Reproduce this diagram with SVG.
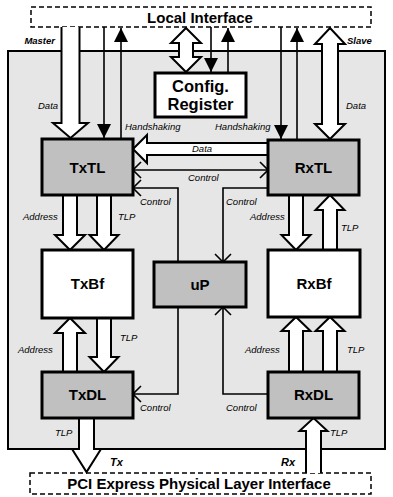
<svg xmlns="http://www.w3.org/2000/svg" width="393" height="497" viewBox="0 0 393 497">
<style>
.bg{fill:#e6e6e6;stroke:#000;stroke-width:2}
.iface{fill:#fff;stroke:#000;stroke-width:1.5;stroke-dasharray:5,3}
.gray{fill:#c0c0c0;stroke:#000;stroke-width:3}
.white{fill:#fff;stroke:#000;stroke-width:3}
.ha{fill:#fff;stroke:#000;stroke-width:2;stroke-linejoin:miter}
.ln{fill:none;stroke:#000;stroke-width:1.6}
.big{font-family:"Liberation Sans",Arial,sans-serif;font-weight:bold;font-size:15px;text-anchor:middle}
.cfg{font-family:"Liberation Sans",Arial,sans-serif;font-weight:bold;font-size:16.5px;text-anchor:middle}
.ttl{font-family:"Liberation Sans",Arial,sans-serif;font-weight:bold;font-size:15px;text-anchor:middle}
.lbl{font-family:"Liberation Sans",Arial,sans-serif;font-style:italic;font-size:9.5px}
.bl{font-family:"Liberation Sans",Arial,sans-serif;font-style:italic;font-weight:bold;font-size:9.5px}
.bx{font-family:"Liberation Sans",Arial,sans-serif;font-style:italic;font-weight:bold;font-size:11px}
</style>
<defs>
<marker id="fa" markerWidth="14" markerHeight="14" refX="14" refY="7" orient="auto" markerUnits="userSpaceOnUse">
<path d="M0,0 L14,7 L0,14 Z" fill="#000"/>
</marker>
<marker id="oa" markerWidth="10" markerHeight="18" refX="9" refY="9" orient="auto" markerUnits="userSpaceOnUse">
<path d="M1,1 L9,9 L1,17" fill="none" stroke="#000" stroke-width="1.6"/>
</marker>
<marker id="os" markerWidth="10" markerHeight="18" refX="1" refY="9" orient="auto" markerUnits="userSpaceOnUse">
<path d="M9,1 L1,9 L9,17" fill="none" stroke="#000" stroke-width="1.6"/>
</marker>
</defs>

<rect class="bg" x="8" y="51" width="377" height="398"/>

<g id="local-interface">
<rect class="iface" x="31" y="7" width="340" height="20"/>
<text class="ttl" x="200" y="22.5">Local Interface</text>
</g>
<g id="pci-interface">
<rect class="iface" x="30" y="473" width="341" height="21"/>
<text class="ttl" x="199" y="489">PCI Express Physical Layer Interface</text>
</g>

<g id="connectors">
<path class="ha" d="M61.5,27 V123 H53 L70.5,138 L88,123 H79.5 V27"/>
<line class="ln" x1="104" y1="27" x2="104" y2="138" marker-end="url(#fa)"/>
<line class="ln" x1="121" y1="139" x2="121" y2="28" marker-end="url(#fa)"/>
<path class="ha" d="M186,28 L201,43 H193 V57 H201 L186,72 L171,57 H179 V43 H171 Z"/>
<line class="ln" x1="211" y1="27" x2="211" y2="72" marker-end="url(#fa)"/>
<line class="ln" x1="228" y1="73" x2="228" y2="28" marker-end="url(#fa)"/>
<line class="ln" x1="281" y1="27" x2="281" y2="139" marker-end="url(#fa)"/>
<line class="ln" x1="297" y1="140" x2="297" y2="28" marker-end="url(#fa)"/>
<path class="ha" d="M330,28 L345,44 H338 V124 H345 L330,139 L315,124 H322 V44 H315 Z"/>
<path class="ha" d="M268,143 H147 V135 L133,149 L147,163 V155 H268"/>
<line class="ln" x1="133" y1="170" x2="268" y2="170" marker-start="url(#os)" marker-end="url(#oa)"/>
<polyline class="ln" points="178,262 178,188 133,188" marker-end="url(#oa)"/>
<polyline class="ln" points="178,307 178,394 133,394" marker-end="url(#oa)"/>
<polyline class="ln" points="268,188 223,188 223,262" marker-end="url(#oa)"/>
<polyline class="ln" points="268,394 223,394 223,307" marker-end="url(#oa)"/>
<path class="ha" d="M63,195 V235 H55 L70,250 L85,235 H77 V195"/>
<path class="ha" d="M97,195 V235 H89.5 L104,250 L118.5,235 H111 V195"/>
<path class="ha" d="M63,372 V333 H55 L70,318 L85,333 H77 V372"/>
<path class="ha" d="M97,318 V357 H89.5 L104,372 L118.5,357 H111 V318"/>
<path class="ha" d="M79,418 V449 H72 L86.5,472 L101,449 H94 V418"/>
<path class="ha" d="M289,195 V235 H281.5 L296,250 L310.5,235 H303 V195"/>
<path class="ha" d="M323,250 V210 H315.5 L330,195 L344.5,210 H337 V250"/>
<path class="ha" d="M289,372 V331 H281.5 L296,317 L310.5,331 H303 V372"/>
<path class="ha" d="M323,372 V331 H315.5 L330,317 L344.5,331 H337 V372"/>
<path class="ha" d="M306,473 V431 H299.5 L313.5,418 L327.5,431 H321 V473"/>
</g>

<g id="config-register">
<rect class="white" x="155" y="73" width="91" height="44"/>
<text class="cfg" x="200.5" y="91.5">Config.</text>
<text class="cfg" x="200.5" y="110">Register</text>
</g>
<g id="txtl"><rect class="gray" x="42" y="139" width="91" height="56"/><text class="big" x="87.5" y="173">TxTL</text></g>
<g id="rxtl"><rect class="gray" x="268" y="140" width="91" height="55"/><text class="big" x="313.5" y="173">RxTL</text></g>
<g id="txbf"><rect class="white" x="42" y="250" width="91" height="68"/><text class="big" x="87.5" y="289">TxBf</text></g>
<g id="rxbf"><rect class="white" x="268" y="250" width="92" height="67"/><text class="big" x="314" y="289">RxBf</text></g>
<g id="up"><rect class="gray" x="154" y="262" width="92" height="45"/><text class="big" x="200" y="290">uP</text></g>
<g id="txdl"><rect class="gray" x="42" y="372" width="91" height="46"/><text class="big" x="87.5" y="400">TxDL</text></g>
<g id="rxdl"><rect class="gray" x="268" y="372" width="91" height="46"/><text class="big" x="313.5" y="400">RxDL</text></g>

<g id="labels">
<text class="bl" x="55" y="44" text-anchor="end">Master</text>
<text class="bl" x="347" y="44">Slave</text>
<text class="lbl" x="38" y="109">Data</text>
<text class="lbl" x="346" y="109">Data</text>
<text class="lbl" x="125" y="130">Handshaking</text>
<text class="lbl" x="215" y="130">Handshaking</text>
<text class="lbl" x="192" y="152">Data</text>
<text class="lbl" x="188" y="181">Control</text>
<text class="lbl" x="140" y="205">Control</text>
<text class="lbl" x="226" y="205">Control</text>
<text class="lbl" x="23" y="220">Address</text>
<text class="lbl" x="118" y="220">TLP</text>
<text class="lbl" x="250" y="220">Address</text>
<text class="lbl" x="341" y="231">TLP</text>
<text class="lbl" x="120" y="341">TLP</text>
<text class="lbl" x="18" y="353">Address</text>
<text class="lbl" x="245" y="353">Address</text>
<text class="lbl" x="347" y="353">TLP</text>
<text class="lbl" x="140" y="411">Control</text>
<text class="lbl" x="226" y="411">Control</text>
<text class="lbl" x="55" y="436">TLP</text>
<text class="lbl" x="330" y="436">TLP</text>
<text class="bx" x="110" y="466">Tx</text>
<text class="bx" x="281" y="466">Rx</text>
</g>
</svg>
